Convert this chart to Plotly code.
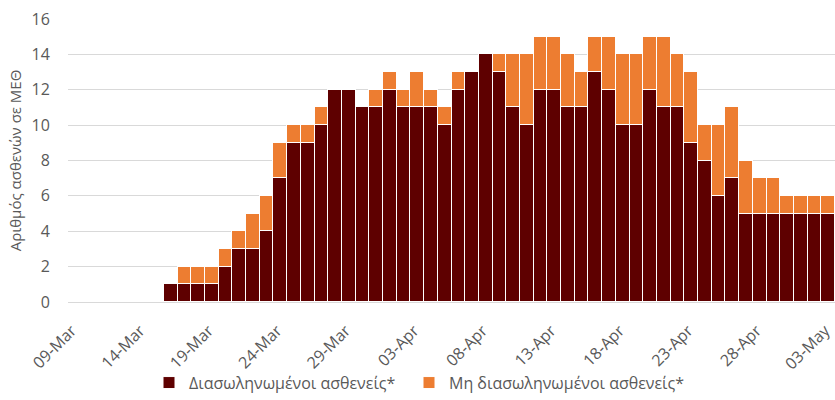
import pandas as pd
import plotly.graph_objects as go

dates = pd.date_range("2020-03-16", "2020-05-03", freq="D").strftime("%Y-%m-%d").tolist()

intubated = [1, 1, 1, 1, 2, 3, 3, 4, 7, 9, 9, 10, 12, 12, 11, 11, 12, 11,
             11, 11, 10, 12, 13, 14, 13, 11, 10, 12, 12, 11, 11, 13, 12, 10,
             10, 12, 11, 11, 9, 8, 6, 7, 5, 5, 5, 5, 5, 5, 5]
totals = [1, 2, 2, 2, 3, 4, 5, 6, 9, 10, 10, 11, 12, 12, 11, 12, 13, 12,
          13, 12, 11, 13, 13, 14, 14, 14, 14, 15, 15, 14, 13, 15, 15, 14,
          14, 15, 15, 14, 13, 10, 10, 11, 8, 7, 7, 6, 6, 6, 6]
not_intubated = [t - i for t, i in zip(totals, intubated)]

series_names = ["Διασωληνωμένοι ασθενείς*", "Μη διασωληνωμένοι ασθενείς*"]
y_title = "Αριθμός ασθενών σε ΜΕΘ"

FONT = "Open Sans"
GREY = "#595959"
L, W = 68, 767

fig = go.Figure()
fig.add_trace(go.Bar(x=dates, y=intubated, name=series_names[0], legend="legend",
                     showlegend=True,
                     marker=dict(color="#5e0000", line=dict(color="white", width=1))))
fig.add_trace(go.Bar(x=dates, y=not_intubated, name=series_names[1], legend="legend2",
                     showlegend=True,
                     marker=dict(color="#ed7d31", line=dict(color="white", width=1))))

leg_common = dict(orientation="h", y=-0.285, yanchor="middle", xanchor="left",
                  font=dict(size=16, color=GREY), itemwidth=30, bgcolor="rgba(0,0,0,0)")

fig.update_layout(
    width=835, height=400, showlegend=True,
    barmode="stack", bargap=0,
    plot_bgcolor="white", paper_bgcolor="white",
    margin=dict(l=L, r=0, t=19, b=98, autoexpand=False),
    font=dict(family=FONT, color=GREY, size=15),
    legend=dict(x=(149 - L) / W, **leg_common),
    legend2=dict(x=(409 - L) / W, **leg_common),
    xaxis=dict(type="date", range=["2020-03-08 12:00", "2020-05-03 12:00"],
               tick0="2020-03-09", dtick=5 * 86400000, tickformat="%d-%b",
               tickangle=-45, showgrid=False, ticks="outside", ticklen=12,
               tickcolor="rgba(0,0,0,0)", tickfont=dict(size=16, color=GREY),
               ticklabeloverflow="allow", ticklabelshift=-3,
               showline=False, zeroline=False, automargin=False),
    yaxis=dict(range=[0, 16], dtick=2, showgrid=True, gridcolor="#d9d9d9", gridwidth=1,
               zeroline=True, zerolinecolor="#d9d9d9", zerolinewidth=1,
               ticks="outside", ticklen=14, tickcolor="rgba(0,0,0,0)",
               tickfont=dict(size=16, color=GREY), automargin=False,
               title=dict(text=y_title, font=dict(size=15, color=GREY), standoff=6)),
)

fig.write_html("out.html", config={"displayModeBar": False},
               post_script="document.body.style.margin='0';document.body.style.overflow='hidden';")
